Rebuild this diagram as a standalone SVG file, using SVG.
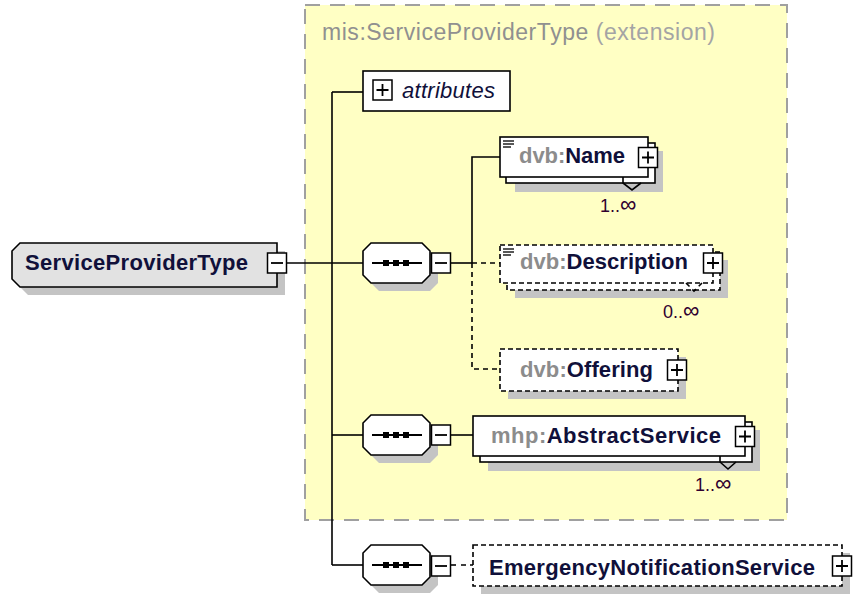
<svg xmlns="http://www.w3.org/2000/svg" width="853" height="594" viewBox="0 0 853 594">
<style>
.bg{fill:#ffffff}
.ext{fill:#ffffc4;stroke:#a0a0a0;stroke-width:2;stroke-dasharray:15,10}
.sh{fill:#c4c4c4;stroke:none}
.el{fill:#ffffff;stroke:#000;stroke-width:1.6}
.opt{fill:#ffffff;stroke:#000;stroke-width:1.6;stroke-dasharray:5,3}
.pm{fill:#ffffff;stroke:#000;stroke-width:1.5}
.sym{stroke:#000;stroke-width:1.8;fill:none}
.ln{stroke:#000;stroke-width:1.6;fill:none}
.dln{stroke:#000;stroke-width:1.6;fill:none;stroke-dasharray:5,4}
.name{font-family:"Liberation Sans",Arial,sans-serif;font-size:22px;font-weight:bold;fill:#10103a}
.pre{fill:#8c8c8c}
.title{font-family:"Liberation Sans",Arial,sans-serif;font-size:23px;fill:#909090}
.mult{font-family:"Liberation Sans",Arial,sans-serif;font-size:18px;fill:#300030}
.inf{font-size:23px}
.attr{font-family:"Liberation Sans",Arial,sans-serif;font-size:22px;font-style:italic;fill:#10103a}
.icon{stroke:#222;stroke-width:1.5}
</style>
<defs>
<g id="plus"><rect class="pm" x="-9.5" y="-10" width="19" height="20"/><path class="sym" d="M-6,0H6M0,-6V6"/></g>
<g id="minus"><rect class="pm" x="-9.5" y="-10" width="19" height="20"/><path class="sym" d="M-6,0H6"/></g>
<g id="seqicon"><path class="sym" d="M9,0H59"/><rect x="20" y="-3" width="6" height="6" fill="#000"/><rect x="30" y="-3" width="6" height="6" fill="#000"/><rect x="40" y="-3" width="6" height="6" fill="#000"/></g>
<g id="mixed"><path class="icon" d="M0,0H11M0,3H11M0,6H8"/></g>
</defs>
<rect class="bg" x="0" y="0" width="853" height="594"/>

<g id="extension">
<rect class="ext" x="305" y="5" width="482" height="515"/>
<text class="title" x="322" y="40" textLength="393">mis:ServiceProviderType <tspan fill="#a4a4a4">(extension)</tspan></text>
</g>

<g id="connectors">
<path class="ln" d="M286,263H363"/>
<path class="ln" d="M332,92V565"/>
<path class="ln" d="M332,92H363"/>
<path class="ln" d="M332,435H363"/>
<path class="ln" d="M332,565H363"/>
<path class="ln" d="M450,263H472"/>
<path class="ln" d="M472,263V157H500"/>
<path class="dln" d="M472,263H500"/>
<path class="dln" d="M472,263V369H500"/>
<path class="ln" d="M450,435H473"/>
<path class="ln" d="M450,565H456"/>
<path class="dln" d="M461,565H473"/>
</g>

<g id="root">
<polygon class="sh" points="28,251 285,251 285,295 28,295 20,287 20,259"/>
<polygon points="20,243 277,243 277,287 20,287 12,279 12,251" fill="#e2e2e2" stroke="#000" stroke-width="1.6"/>
<text class="name" x="25" y="270" textLength="223">ServiceProviderType</text>
<use href="#minus" x="277" y="263"/>
</g>

<g id="attributes">
<rect class="el" x="363" y="71" width="147" height="40"/>
<use href="#plus" x="382.5" y="90"/>
<text class="attr" x="402" y="98" textLength="93">attributes</text>
</g>

<g id="seq1">
<polygon class="sh" points="379,251 430,251 438,259 438,283 430,291 379,291 371,283 371,259"/>
<polygon class="el" points="371,243 422,243 430,251 430,275 422,283 371,283 363,275 363,251"/>
<use href="#seqicon" x="363" y="263"/>
<use href="#minus" x="441" y="263"/>
</g>

<g id="name">
<rect class="sh" x="515" y="151" width="148" height="41"/>
<rect class="el" x="506" y="143" width="149" height="40"/>
<rect class="el" x="500" y="137" width="148" height="40"/>
<use href="#mixed" x="503" y="141"/>
<text class="name" x="519" y="163" textLength="106"><tspan class="pre">dvb:</tspan>Name</text>
<use href="#plus" x="648" y="157.5"/>
<polyline class="ln" points="623,177 623,183 632,190 641,183" stroke-width="1.2"/>
<text class="mult" x="600" y="212">1..<tspan class="inf">∞</tspan></text>
</g>

<g id="description">
<rect class="sh" x="515" y="260" width="213" height="38"/>
<rect class="opt" x="507" y="252" width="213" height="38"/>
<rect class="opt" x="500" y="245" width="213" height="38"/>
<use href="#mixed" x="503" y="249"/>
<text class="name" x="520" y="269" textLength="168"><tspan class="pre">dvb:</tspan>Description</text>
<use href="#plus" x="713" y="263"/>
<polyline class="dln" points="686,283 694,291 702,283" stroke-width="1.2" stroke-dasharray="3,2"/>
<text class="mult" x="663" y="318">0..<tspan class="inf">∞</tspan></text>
</g>

<g id="offering">
<rect class="sh" x="508" y="357" width="178" height="42"/>
<rect class="opt" x="500" y="349" width="178" height="42"/>
<text class="name" x="520" y="377" textLength="133"><tspan class="pre">dvb:</tspan>Offering</text>
<use href="#plus" x="677" y="370"/>
</g>

<g id="seq2">
<polygon class="sh" points="379,423 430,423 438,431 438,455 430,463 379,463 371,455 371,431"/>
<polygon class="el" points="371,415 422,415 430,423 430,447 422,455 371,455 363,447 363,423"/>
<use href="#seqicon" x="363" y="435"/>
<use href="#minus" x="441" y="435"/>
</g>

<g id="abstractservice">
<rect class="sh" x="488" y="430" width="272" height="41"/>
<rect class="el" x="480" y="422" width="272" height="40"/>
<rect class="el" x="473" y="416" width="272" height="40"/>
<text class="name" x="491" y="443" textLength="230"><tspan class="pre">mhp:</tspan>AbstractService</text>
<use href="#plus" x="745" y="436.5"/>
<polyline class="ln" points="720,456 720,462 728,469 736,462" stroke-width="1.2"/>
<text class="mult" x="695" y="491">1..<tspan class="inf">∞</tspan></text>
</g>

<g id="seq3">
<polygon class="sh" points="379,553 430,553 438,561 438,585 430,593 379,593 371,585 371,561"/>
<polygon class="el" points="371,545 422,545 430,553 430,577 422,585 371,585 363,577 363,553"/>
<use href="#seqicon" x="363" y="565"/>
<use href="#minus" x="441" y="566"/>
</g>

<g id="emergency">
<rect class="sh" x="481" y="553" width="369" height="41"/>
<rect class="opt" x="473" y="545" width="369" height="41"/>
<text class="name" x="489" y="575" textLength="326">EmergencyNotificationService</text>
<use href="#plus" x="842" y="566"/>
</g>
</svg>
